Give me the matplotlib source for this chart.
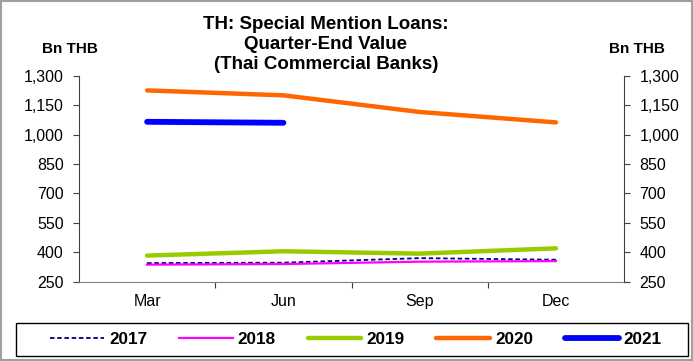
import matplotlib.pyplot as plt
import matplotlib.patches as mpatches
from matplotlib.ticker import FixedLocator, FuncFormatter

plt.rcParams["font.family"] = ["Liberation Sans", "DejaVu Sans"]

quarters = ["Mar", "Jun", "Sep", "Dec"]
y2017 = [345, 347, 370, 362]
y2018 = [337, 340, 352, 355]
y2019 = [383, 405, 393, 420]
y2020 = [1225, 1200, 1115, 1062]
y2021 = [1065, 1060]
yticks = [250, 400, 550, 700, 850, 1000, 1150, 1300]

W, H = 693, 361
fig = plt.figure(figsize=(W / 100, H / 100), dpi=100)
fig.patches.append(mpatches.Rectangle((0.002, 0.002), 0.996, 0.996, transform=fig.transFigure,
                                      fill=False, ec="#a0a0a0", lw=1.5))
ax = fig.add_axes([0.114, 0.2197, 0.7865, 0.5706])
x = range(4)
ax.plot(x, y2017, color="#000080", lw=1.3, ls=(0, (2.5, 1.5)), label="2017")
ax.plot(x, y2018, color="#ff00ff", lw=1.6, label="2018")
ax.plot(x, y2019, color="#99cc00", lw=3.2, solid_capstyle="round", label="2019")
ax.plot(x, y2020, color="#ff6600", lw=3.2, solid_capstyle="round", label="2020")
ax.plot(range(len(y2021)), y2021, color="#0000ff", lw=4.2, solid_capstyle="round", label="2021")

ax.set_xlim(-0.5, 3.5)
ax.set_ylim(250, 1300)
ax.set_yticks(yticks)
fmt = FuncFormatter(lambda v, p: f"{int(v):,}")
ax.yaxis.set_major_formatter(fmt)
ax.xaxis.set_major_locator(FixedLocator([0.5, 1.5, 2.5]))
ax.xaxis.set_major_formatter(FuncFormatter(lambda v, p: ""))
ax.xaxis.set_minor_locator(FixedLocator(list(x)))
ax.set_xticklabels(quarters, minor=True)
ax.tick_params(axis="x", which="minor", length=0, labelsize=11.5, pad=9)
ax.tick_params(axis="x", which="major", length=4, direction="out", color="#404040")
ax.tick_params(axis="y", length=4, labelsize=11.5, pad=7, color="#404040")
for s in ["top", "right"]:
    ax.spines[s].set_visible(False)
ax.spines["bottom"].set_color("#808080")
ax.spines["left"].set_color("#404040")

ax2 = ax.twinx()
ax2.set_ylim(250, 1300)
ax2.set_yticks(yticks)
ax2.yaxis.set_major_formatter(fmt)
ax2.tick_params(axis="y", length=4, labelsize=11.5, pad=7, color="#404040")
ax2.spines["right"].set_color("#404040")
for s in ["top", "left", "bottom"]:
    ax2.spines[s].set_visible(False)

fig.text(0.061, 0.865, "Bn THB", fontsize=11, fontweight="bold", ha="left", va="center")
fig.text(0.879, 0.865, "Bn THB", fontsize=11, fontweight="bold", ha="left", va="center")
fig.text(0.47, 0.877, "TH: Special Mention Loans:\nQuarter-End Value\n(Thai Commercial Banks)",
         fontsize=13.5, fontweight="bold", ha="center", va="center", linespacing=1.2)

# legend box at the bottom
fig.patches.append(mpatches.Rectangle((16 / W, 5 / H), 672 / W, 33 / H, transform=fig.transFigure,
                                      fill=False, ec="black", lw=1.0))
fig.legend(*ax.get_legend_handles_labels(), loc="center",
           bbox_to_anchor=(356 / W, 1 - 339.5 / H),
           ncol=5, frameon=False, prop={"weight": "bold", "size": 12.3},
           handlelength=3.15, handletextpad=0.3, columnspacing=1.85, borderaxespad=0)

fig.savefig("out.png", dpi=100)
